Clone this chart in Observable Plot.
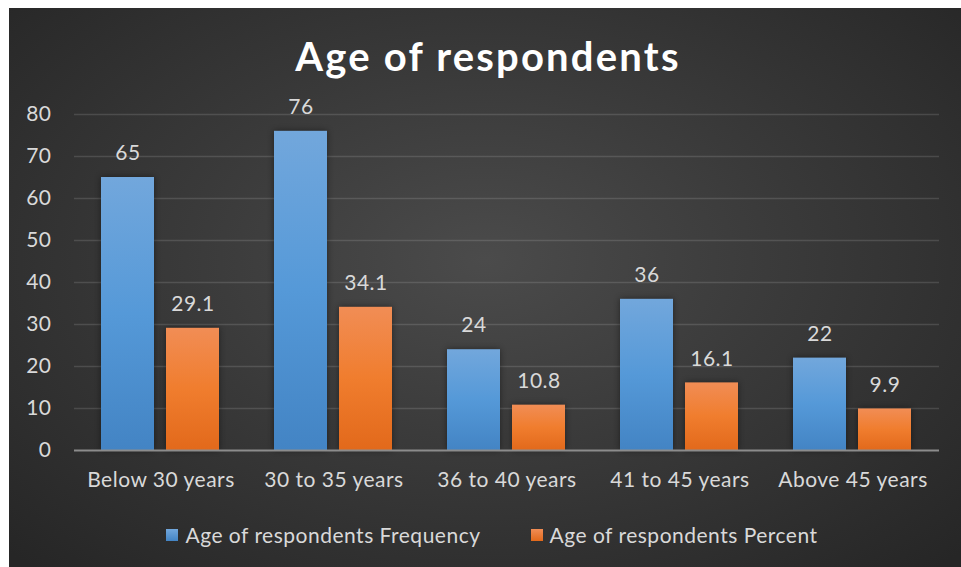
<!DOCTYPE html>
<html>
<head>
<meta charset="utf-8">
<script src="https://cdn.jsdelivr.net/npm/d3@7"></script>
<script src="https://cdn.jsdelivr.net/npm/@observablehq/plot@0.6"></script>
<style>
  html, body { margin: 0; padding: 0; background: #fff; }
  #frame { position: absolute; left: 9px; top: 8px; width: 952px; height: 559px;
    background: radial-gradient(ellipse 70% 75% at 50% 45%, #4b4b4b 0%, #3a3a3a 45%, #262626 100%);
    font-family: Lato, "Open Sans", sans-serif; color: #d9d9d9; overflow: hidden; }
  #title { height: 87px; box-sizing: border-box; padding-top: 25px; text-align: center;
    font-size: 40px; font-weight: 700; color: #fff; letter-spacing: 2.2px; line-height: 46px; padding-left: 6px; }
  #chart svg { display: block; }
  #legend { display: flex; justify-content: center; gap: 50px; font-size: 21px; letter-spacing: 0.5px; margin-top: 17px; padding-left: 14px; }
  .item { display: flex; align-items: center; }
  .sw { width: 12px; height: 12px; margin-right: 7px; }
</style>
</head>
<body>
<div id="frame">
  <div id="title">Age of respondents</div>
  <div id="chart"></div>
  <div id="legend"></div>
</div>
<script>
const categories = ["Below 30 years", "30 to 35 years", "36 to 40 years", "41 to 45 years", "Above 45 years"];
const seriesNames = ["Age of respondents Frequency", "Age of respondents Percent"];
const frequency = [65, 76, 24, 36, 22];
const percent = [29.1, 34.1, 10.8, 16.1, 9.9];
const yTicks = [0, 10, 20, 30, 40, 50, 60, 70, 80];

const freqRows = categories.map((c, i) => ({category: c, series: seriesNames[0], value: frequency[i]}));
const pctRows = categories.map((c, i) => ({category: c, series: seriesNames[1], value: percent[i]}));
const rows = freqRows.concat(pctRows);

const svg = Plot.plot({
  width: 952,
  height: 410,
  marginTop: 19,
  marginBottom: 55,
  marginLeft: 64,
  marginRight: 21,
  style: {background: "transparent", color: "#d9d9d9", fontFamily: "Lato, 'Open Sans', sans-serif", fontSize: "21px", letterSpacing: "0.5px", overflow: "visible"},
  fx: {domain: categories, padding: 0, label: null, tickSize: 0, tickPadding: 22},
  x: {domain: seriesNames, paddingInner: 0.182, paddingOuter: 0.405, axis: null},
  y: {domain: [0, 80], ticks: yTicks, tickSize: 0, tickPadding: 23, label: null},
  marks: [
    Plot.ruleY(yTicks.filter(t => t > 0), {stroke: "#ffffff", strokeOpacity: 0.13, strokeWidth: 1.5}),
    Plot.barY(freqRows, {fx: "category", x: "series", y: "value", fill: "url(#gBlue)"}),
    Plot.barY(pctRows, {fx: "category", x: "series", y: "value", fill: "url(#gOrange)"}),
    Plot.ruleY([0], {stroke: "#8c8c8c", strokeWidth: 2}),
    Plot.text(rows, {fx: "category", x: "series", y: "value", text: d => String(d.value), dy: -24, fill: "#d9d9d9", fontSize: 21})
  ]
});

d3.select(svg).insert("defs", ":first-child").html(`
  <linearGradient id="gBlue" x1="0" y1="0" x2="0" y2="1">
    <stop offset="0" stop-color="#72a7dc"/>
    <stop offset="0.5" stop-color="#5599d8"/>
    <stop offset="1" stop-color="#4384c4"/>
  </linearGradient>
  <linearGradient id="gOrange" x1="0" y1="0" x2="0" y2="1">
    <stop offset="0" stop-color="#f18d55"/>
    <stop offset="0.5" stop-color="#f07d2e"/>
    <stop offset="1" stop-color="#e2691b"/>
  </linearGradient>
`);
d3.select(svg).selectAll("rect").style("filter", "drop-shadow(0px 0px 3px rgba(0,0,0,0.45))");

document.getElementById("chart").appendChild(svg);

const legend = document.getElementById("legend");
seriesNames.forEach((s, i) => {
  const item = document.createElement("div");
  item.className = "item";
  item.innerHTML = `<span class="sw" style="background:linear-gradient(#${i ? "f18d55" : "72a7dc"}, #${i ? "e2691b" : "4384c4"})"></span><span>${s}</span>`;
  legend.appendChild(item);
});
</script>
</body>
</html>
